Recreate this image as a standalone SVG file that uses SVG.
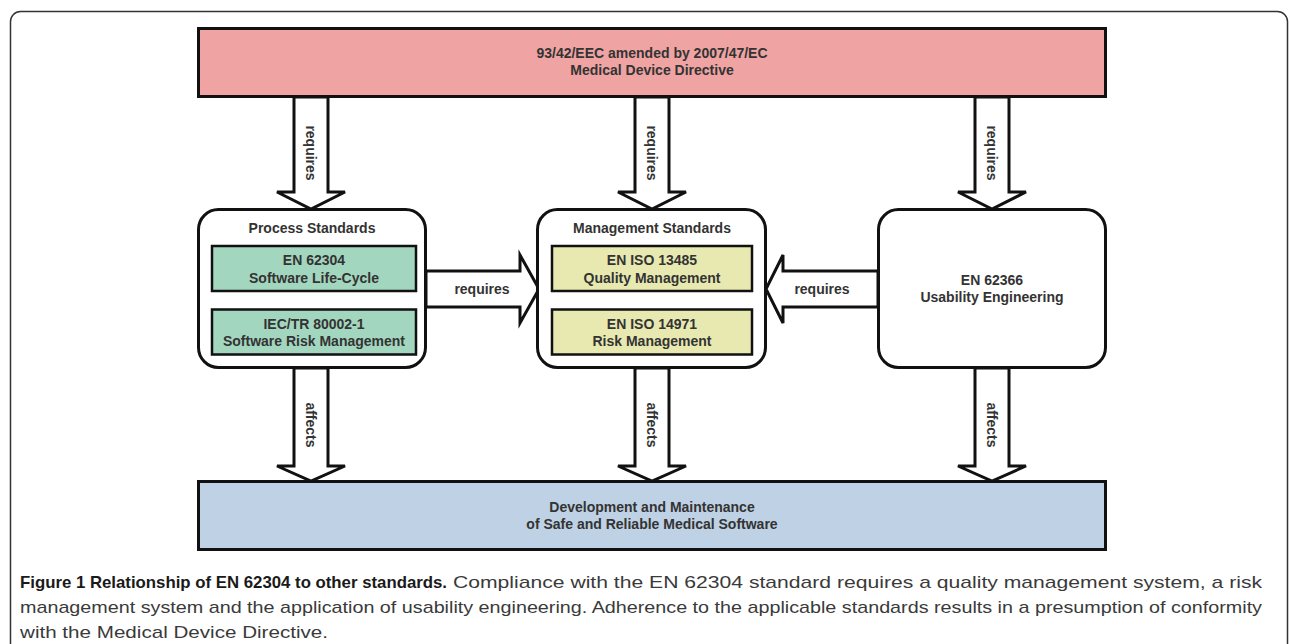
<svg xmlns="http://www.w3.org/2000/svg" width="1290" height="644" viewBox="0 0 1290 644">
<style>
.lbl{font-family:"Liberation Sans",Arial,sans-serif;font-weight:bold;font-size:14px;fill:#333;text-anchor:middle}
.vl{font-family:"Liberation Sans",Arial,sans-serif;font-weight:bold;font-size:14px;fill:#333;text-anchor:middle;dominant-baseline:central}
.arr{fill:#fff;stroke:#111;stroke-width:3;stroke-linejoin:miter}
.box{fill:#fff;stroke:#111;stroke-width:3}
.inner{stroke:#111;stroke-width:2.5}
.cap{font-family:"Liberation Sans",Arial,sans-serif;font-size:17px;fill:#3a3a3a}
.capb{font-family:"Liberation Sans",Arial,sans-serif;font-size:17px;font-weight:bold;fill:#1a1a1a}
</style>
<rect x="0" y="0" width="1290" height="644" fill="#fff"/>
<rect x="10.5" y="11.5" width="1277" height="700" rx="10" fill="none" stroke="#333" stroke-width="1.5"/>

<g id="connectors">
  <polygon class="arr" points="294,97 328,97 328,192 345,192 311,209 277,192 294,192"/>
  <polygon class="arr" points="635,97 669,97 669,192 686,192 652,209 618,192 635,192"/>
  <polygon class="arr" points="975,97 1009,97 1009,192 1026,192 992,209 958,192 975,192"/>
  <polygon class="arr" points="426,271 520,271 520,255 539,289 520,323 520,307 426,307"/>
  <polygon class="arr" points="878,271 783,271 783,255 766,289 783,323 783,307 878,307"/>
  <polygon class="arr" points="294,368 328,368 328,466 345,466 311,481 277,466 294,466"/>
  <polygon class="arr" points="635,368 669,368 669,466 686,466 652,481 618,466 635,466"/>
  <polygon class="arr" points="975,368 1009,368 1009,466 1026,466 992,481 958,466 975,466"/>
  <text class="vl" transform="rotate(90 311 153)" x="311" y="153">requires</text>
  <text class="vl" transform="rotate(90 652 153)" x="652" y="153">requires</text>
  <text class="vl" transform="rotate(90 992 153)" x="992" y="153">requires</text>
  <text class="vl" transform="rotate(90 311 425)" x="311" y="425">affects</text>
  <text class="vl" transform="rotate(90 652 425)" x="652" y="425">affects</text>
  <text class="vl" transform="rotate(90 992 425)" x="992" y="425">affects</text>
  <text class="lbl" x="482" y="294">requires</text>
  <text class="lbl" x="822" y="294">requires</text>
</g>

<g id="mdd">
  <rect x="198.5" y="28.5" width="907" height="68" fill="#F0A3A3" stroke="#111" stroke-width="3"/>
  <text class="lbl" x="652" y="58">93/42/EEC amended by 2007/47/EC</text>
  <text class="lbl" x="652" y="75">Medical Device Directive</text>
</g>

<g id="process">
  <rect class="box" x="198.5" y="209.5" width="227" height="158" rx="20"/>
  <text class="lbl" x="312" y="233">Process Standards</text>
  <rect class="inner" x="212" y="246" width="204" height="45" fill="#A3D6BF"/>
  <text class="lbl" x="314" y="264.5">EN 62304</text>
  <text class="lbl" x="314" y="282.5">Software Life-Cycle</text>
  <rect class="inner" x="212" y="309.5" width="204" height="45" fill="#A3D6BF"/>
  <text class="lbl" x="314" y="328.5">IEC/TR 80002-1</text>
  <text class="lbl" x="314" y="345.5">Software Risk Management</text>
</g>

<g id="management">
  <rect class="box" x="537.5" y="209.5" width="228" height="158" rx="20"/>
  <text class="lbl" x="652" y="233">Management Standards</text>
  <rect class="inner" x="552" y="246" width="200" height="45" fill="#E8E9B0"/>
  <text class="lbl" x="652" y="264.5">EN ISO 13485</text>
  <text class="lbl" x="652" y="282.5">Quality Management</text>
  <rect class="inner" x="552" y="309.5" width="200" height="45" fill="#E8E9B0"/>
  <text class="lbl" x="652" y="328.5">EN ISO 14971</text>
  <text class="lbl" x="652" y="345.5">Risk Management</text>
</g>

<g id="usability">
  <rect class="box" x="878.5" y="209.5" width="227" height="158" rx="20"/>
  <text class="lbl" x="992" y="285">EN 62366</text>
  <text class="lbl" x="992" y="302">Usability Engineering</text>
</g>

<g id="development">
  <rect x="198.5" y="481.5" width="907" height="68" fill="#BFD1E4" stroke="#111" stroke-width="3"/>
  <text class="lbl" x="652" y="512">Development and Maintenance</text>
  <text class="lbl" x="652" y="529">of Safe and Reliable Medical Software</text>
</g>

<g id="caption">
  <text class="capb" x="20" y="588" textLength="427" lengthAdjust="spacingAndGlyphs">Figure 1 Relationship of EN 62304 to other standards.</text>
  <text class="cap" x="453" y="588" textLength="809" lengthAdjust="spacingAndGlyphs">Compliance with the EN 62304 standard requires a quality management system, a risk</text>
  <text class="cap" x="20" y="613" textLength="1242" lengthAdjust="spacingAndGlyphs">management system and the application of usability engineering. Adherence to the applicable standards results in a presumption of conformity</text>
  <text class="cap" x="20" y="638" textLength="308" lengthAdjust="spacingAndGlyphs">with the Medical Device Directive.</text>
</g>
</svg>
